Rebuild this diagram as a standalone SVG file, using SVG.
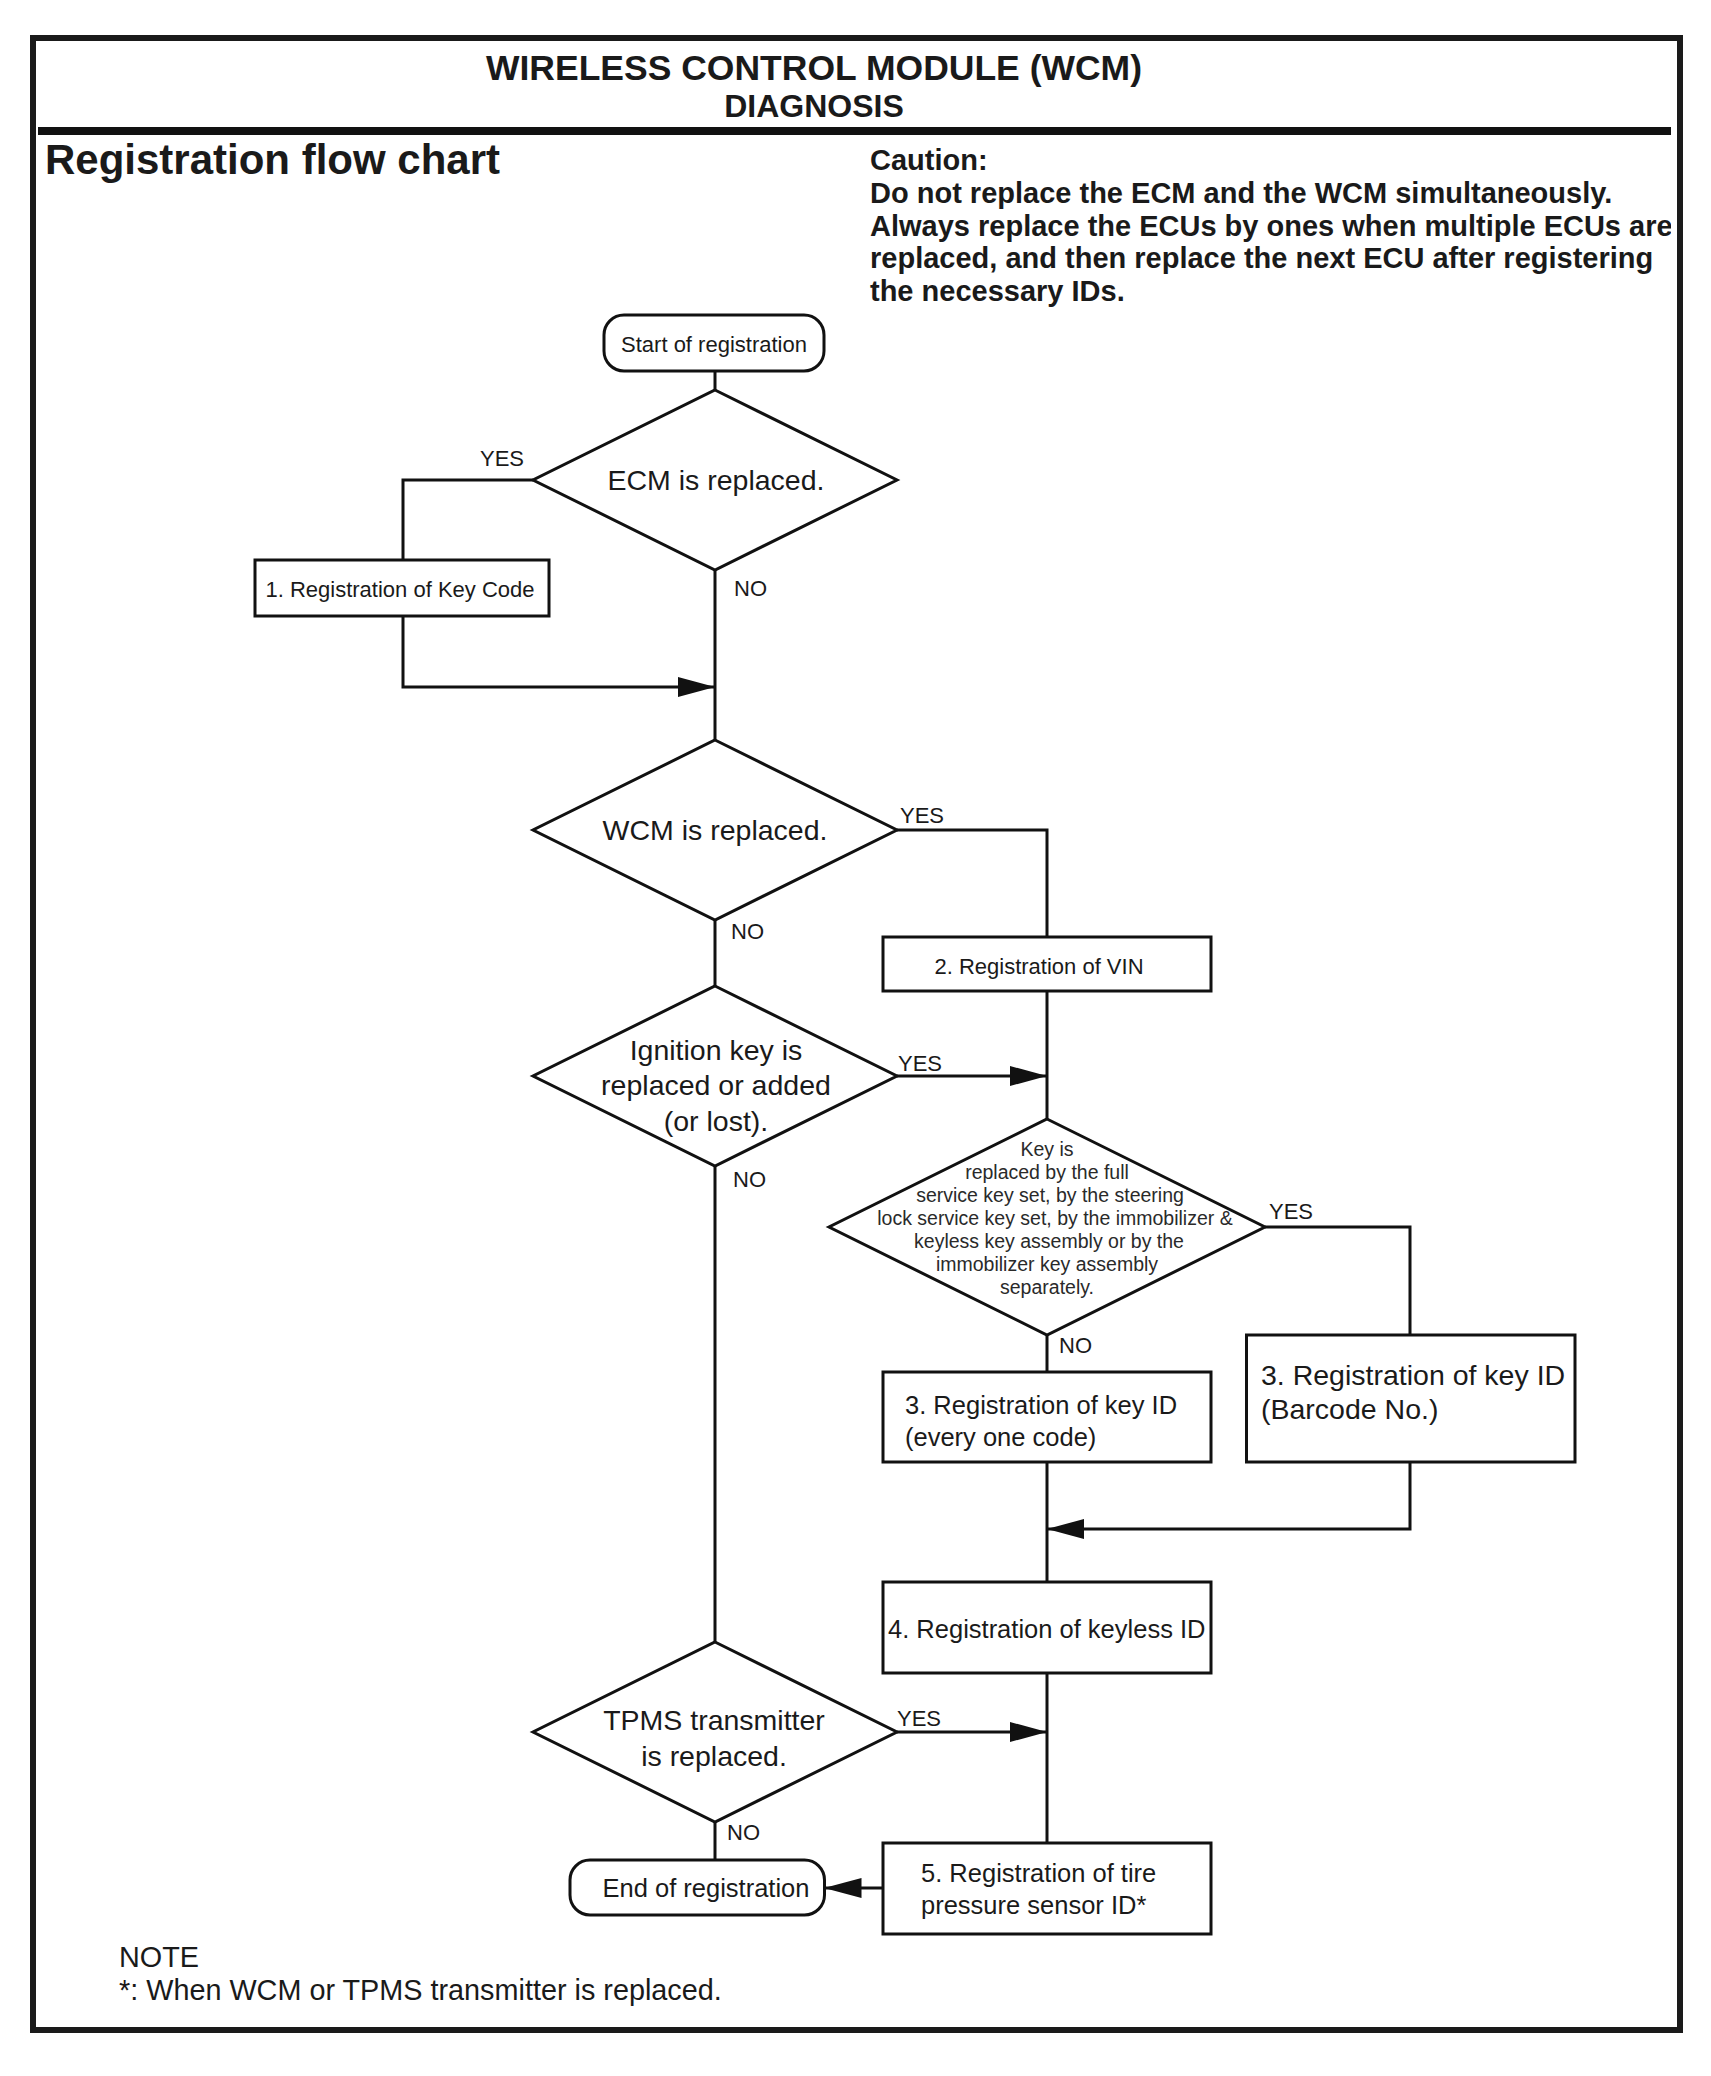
<svg xmlns="http://www.w3.org/2000/svg" width="1711" height="2076" viewBox="0 0 1711 2076">
<style>
text{font-family:"Liberation Sans",Arial,sans-serif;fill:#1a1a1a}
.b{font-weight:bold}
.shape{fill:#fff;stroke:#111;stroke-width:3}
.conn path{fill:none;stroke:#111;stroke-width:3}
.lbl{font-size:22px}
.t22{font-size:22px}
.t25{font-size:25.5px}
.t29{font-size:28.5px}
.ks{font-size:19.5px;fill:#2a2a2a}
.mid{text-anchor:middle}
</style>
<defs>
<marker id="arr" viewBox="0 0 37 20" refX="37" refY="10" markerWidth="37" markerHeight="20" markerUnits="userSpaceOnUse" orient="auto">
<path d="M0,0 L37,10 L0,20 z" fill="#111"/>
</marker>
<clipPath id="clipC"><rect x="0" y="0" width="1671" height="400"/></clipPath>
</defs>
<rect width="1711" height="2076" fill="#fff"/>
<g id="frame">
<rect x="33" y="38" width="1647" height="1992" fill="none" stroke="#1a1a1a" stroke-width="6"/>
<line x1="38" y1="131" x2="1671" y2="131" stroke="#111" stroke-width="8"/>
</g>
<g id="header">
<text class="b mid" x="814" y="80" style="font-size:35.5px">WIRELESS CONTROL MODULE (WCM)</text>
<text class="b mid" x="814" y="117" style="font-size:32px">DIAGNOSIS</text>
<text class="b" x="45" y="174" style="font-size:42px">Registration flow chart</text>
</g>
<g id="caution" class="b" style="font-size:29px" clip-path="url(#clipC)">
<text x="870" y="170">Caution:</text>
<text x="870" y="203">Do not replace the ECM and the WCM simultaneously.</text>
<text x="870" y="235.5">Always replace the ECUs by ones when multiple ECUs are</text>
<text x="870" y="268">replaced, and then replace the next ECU after registering</text>
<text x="870" y="301">the necessary IDs.</text>
</g>
<g class="conn" id="connectors">
<path d="M715,371 V390"/>
<path d="M533,480 H403 V560"/>
<path d="M403,616 V687 H715" marker-end="url(#arr)"/>
<path d="M715,570 V740"/>
<path d="M897,830 H1047 V937"/>
<path d="M715,920 V986"/>
<path d="M1047,991 V1119"/>
<path d="M897,1076 H1047" marker-end="url(#arr)"/>
<path d="M715,1166 V1642"/>
<path d="M1265,1227 H1410 V1335"/>
<path d="M1047,1335 V1372"/>
<path d="M1047,1462 V1582"/>
<path d="M1410,1462 V1529 H1047" marker-end="url(#arr)"/>
<path d="M1047,1673 V1843"/>
<path d="M897,1732 H1047" marker-end="url(#arr)"/>
<path d="M715,1822 V1860"/>
<path d="M883,1888 H824.5" marker-end="url(#arr)"/>
</g>
<g id="labels" class="lbl">
<text x="480" y="466">YES</text>
<text x="734" y="596">NO</text>
<text x="900" y="823">YES</text>
<text x="731" y="939">NO</text>
<text x="898" y="1071">YES</text>
<text x="733" y="1187">NO</text>
<text x="1269" y="1219">YES</text>
<text x="1059" y="1353">NO</text>
<text x="897" y="1726">YES</text>
<text x="727" y="1840">NO</text>
</g>
<g id="start">
<rect class="shape" x="604" y="315" width="220" height="56" rx="20"/>
<text class="t22 mid" x="714" y="352">Start of registration</text>
</g>
<g id="ecm">
<polygon class="shape" points="715,390 897,480 715,570 533,480"/>
<text class="t29 mid" x="716" y="490">ECM is replaced.</text>
</g>
<g id="keycode">
<rect class="shape" x="255" y="560" width="294" height="56"/>
<text class="t22 mid" x="400" y="597">1. Registration of Key Code</text>
</g>
<g id="wcm">
<polygon class="shape" points="715,740 897,830 715,920 533,830"/>
<text class="t29 mid" x="715" y="840">WCM is replaced.</text>
</g>
<g id="vin">
<rect class="shape" x="883" y="937" width="328" height="54"/>
<text class="t22 mid" x="1039" y="974">2. Registration of VIN</text>
</g>
<g id="ignition">
<polygon class="shape" points="715,986 897,1076 715,1166 533,1076"/>
<text class="t29 mid" x="716" y="1060">Ignition key is</text>
<text class="t29 mid" x="716" y="1095">replaced or added</text>
<text class="t29 mid" x="716" y="1131">(or lost).</text>
</g>
<g id="keyset">
<polygon class="shape" points="1047,1119 1265,1227 1047,1335 829,1227"/>
<text class="ks mid" x="1047" y="1156">Key is</text>
<text class="ks mid" x="1047" y="1179">replaced by the full</text>
<text class="ks mid" x="1050" y="1202">service key set, by the steering</text>
<text class="ks mid" x="1055" y="1225">lock service key set, by the immobilizer &amp;</text>
<text class="ks mid" x="1049" y="1248">keyless key assembly or by the</text>
<text class="ks mid" x="1047" y="1271">immobilizer key assembly</text>
<text class="ks mid" x="1047" y="1294">separately.</text>
</g>
<g id="keyid-every">
<rect class="shape" x="883" y="1372" width="328" height="90"/>
<text class="t25" x="905" y="1414">3. Registration of key ID</text>
<text class="t25" x="905" y="1446">(every one code)</text>
</g>
<g id="keyid-barcode">
<rect class="shape" x="1246.5" y="1335" width="328.5" height="127"/>
<text class="t29" x="1261" y="1385">3. Registration of key ID</text>
<text class="t29" x="1261" y="1419">(Barcode No.)</text>
</g>
<g id="keyless">
<rect class="shape" x="883" y="1582" width="328" height="91"/>
<text class="t25" x="888" y="1638">4. Registration of keyless ID</text>
</g>
<g id="tpms">
<polygon class="shape" points="715,1642 897,1732 715,1822 533,1732"/>
<text class="t29 mid" x="714" y="1730">TPMS transmitter</text>
<text class="t29 mid" x="714" y="1766">is replaced.</text>
</g>
<g id="tire">
<rect class="shape" x="883" y="1843" width="328" height="91"/>
<text class="t25" x="921" y="1882">5. Registration of tire</text>
<text class="t25" x="921" y="1914">pressure sensor ID*</text>
</g>
<g id="end">
<rect class="shape" x="570" y="1860" width="254.5" height="55" rx="20"/>
<text class="t25 mid" x="706" y="1897">End of registration</text>
</g>
<g id="note" style="font-size:28.8px">
<text x="119" y="1967">NOTE</text>
<text x="119" y="2000">*: When WCM or TPMS transmitter is replaced.</text>
</g>
</svg>
